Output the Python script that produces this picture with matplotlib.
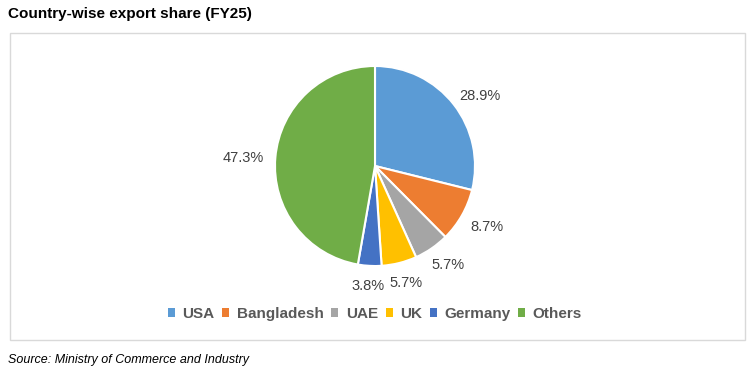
import numpy as np
import matplotlib
matplotlib.use("Agg")
from matplotlib import pyplot as plt
from matplotlib.patches import Rectangle, Patch

plt.rcParams['font.family'] = ['Liberation Sans', 'DejaVu Sans']

# dados ------------------------------------------------------------------
countries = ['USA', 'Bangladesh', 'UAE', 'UK', 'Germany', 'Others']
shares = [28.9, 8.7, 5.7, 5.7, 3.8, 47.3]
colors = ['#5B9BD5', '#ED7D31', '#A5A5A5', '#FFC000', '#4472C4', '#70AD47']

title = 'Country-wise export share (FY25)'
source = 'Source: Ministry of Commerce and Industry'

# figura -----------------------------------------------------------------
W, H = 752, 378
fig = plt.figure(figsize=(W / 100, H / 100), dpi=100)

# moldura do grafico
fig.patches.append(Rectangle((10 / W, 1 - 340 / H), 735 / W, 307 / H,
                             transform=fig.transFigure, fill=False,
                             edgecolor='#D9D9D9', linewidth=1.0))

fig.text(8 / W, 1 - 14 / H, title, fontsize=11, fontweight='bold',
         color='black', va='center', ha='left')
fig.text(8 / W, 1 - 360 / H, source, fontsize=9, fontstyle='italic',
         color='black', va='center', ha='left')

# pizza ------------------------------------------------------------------
cx, cy, r = 375, 166, 100
ax = fig.add_axes([(cx - 1.2 * r) / W, (H - cy - 1.2 * r) / H,
                   2.4 * r / W, 2.4 * r / H])
labels = ['%.1f%%' % s for s in shares]
wedges, texts = ax.pie(shares, colors=colors, startangle=90, counterclock=False,
                       labels=labels, labeldistance=1.1,
                       wedgeprops=dict(edgecolor='white', linewidth=1.5),
                       textprops=dict(fontsize=10.5, color='#404040'))
ax.set_xlim(-1.2, 1.2)
ax.set_ylim(-1.2, 1.2)
ax.set_aspect('equal')
ax.axis('off')

# rotulos fora da pizza, estilo excel (caixa encostada no raio 1.12)
fig.canvas.draw()
rend = fig.canvas.get_renderer()
for w, t in zip(wedges, texts):
    ang = np.deg2rad((w.theta1 + w.theta2) / 2)
    bb = t.get_window_extent(rend)
    hw = bb.width / 2 / r
    hh = bb.height * 0.4 / r
    t.set_ha('center')
    t.set_va('center')
    t.set_position((np.cos(ang) * (1.12 + hw),
                    np.sin(ang) * (1.12 + hh) - 0.025))

# legenda ----------------------------------------------------------------
handles = [Patch(facecolor=c, edgecolor='none') for c in colors]
leg = fig.legend(handles, countries, loc='center', ncol=len(countries),
                 bbox_to_anchor=(375 / W, 1 - 314 / H), frameon=False,
                 handlelength=0.45, handleheight=0.45, handletextpad=0.5,
                 columnspacing=0.5, prop=dict(size=11, weight='bold'))
for t in leg.get_texts():
    t.set_color('#595959')

fig.savefig('out.png', dpi=100)
